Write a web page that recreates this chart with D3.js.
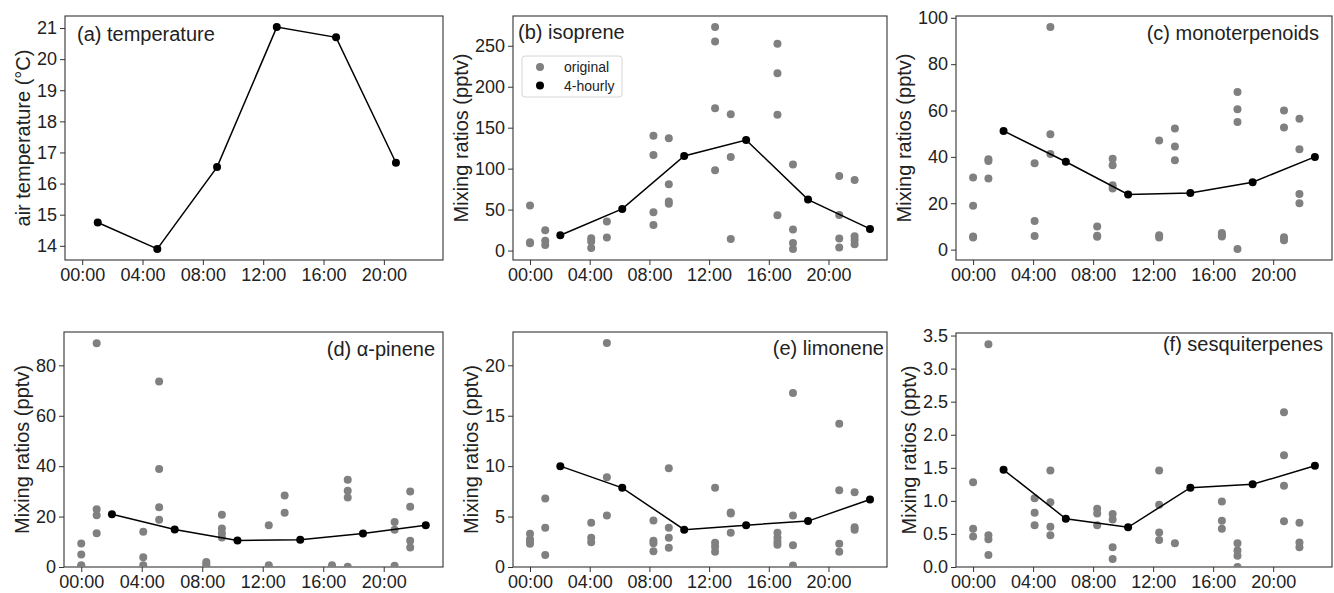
<!DOCTYPE html>
<html>
<head>
<meta charset="utf-8">
<script src="https://cdn.jsdelivr.net/npm/d3@7"></script>
<style>
  body { margin: 0; background: #fff; }
  text { font-family: "Liberation Sans", Arial, sans-serif; }
</style>
</head>
<body>
<div class="vis"></div>
<script>
var w = 1334;
var h = 593;

// hours of day for the original samples, the 4-hourly means and the temperature
var hoursOrig = [0, 1.02, 4.1, 5.15, 8.27, 9.3, 12.4, 13.45, 16.58, 17.62, 20.72, 21.75];
var hours4h = [2.03, 6.18, 10.33, 14.48, 18.63, 22.78];
var hoursTemp = [1.03, 4.98, 8.94, 12.9, 16.83, 20.8];
var xTicks = [0, 4, 8, 12, 16, 20];

var temperature = [14.75, 13.9, 16.53, 21.03, 20.7, 16.67];

// one inner array per sampling time
var isopreneOrig = [[54.9, 10.2, 9], [24.8, 12, 6.9], [15, 11, 3], [35.4, 15.9],
    [140, 116.7, 46.7, 31.3], [137, 81, 59.8, 57], [272.8, 255.3, 173.6, 98], [166.3, 114.2, 14.2],
    [252.4, 216.3, 165.9, 43], [104.9, 25.6, 9.3, 2], [91, 43.5, 14.6, 3.7], [86.2, 17.5, 13, 7.7]];
var isoprene4h = [18.7, 50.8, 115.4, 135, 62.2, 26.4];

var monoOrig = [[31.1, 18.9, 5.7, 5.2], [39, 38.2, 30.7], [37.3, 12.3, 5.9], [96, 49.8, 41.3],
    [10, 6, 5.5], [39.2, 36.4, 27.8, 26.4], [47.1, 6.2, 5.2], [52.2, 44.5, 38.5],
    [7.2, 6.2, 5.7], [68, 60.5, 55, 0.3], [60, 52.7, 5.3, 4], [56.5, 43.3, 24, 20]];
var mono4h = [51.2, 37.9, 23.8, 24.4, 29.1, 40];

var pineneOrig = [[9.3, 5, 0.7, 0.3], [88.8, 22.9, 20.5, 13.4], [14, 3.9, 0.7], [73.6, 38.9, 23.7, 18.7],
    [2, 1.2, 0.4], [20.7, 15.3, 13.4, 11.7], [16.6, 0.7], [28.4, 21.5],
    [0.7], [34.6, 30.3, 27.6, 0.1], [17.9, 14.8, 0.5], [30, 23.9, 10.4, 7.7]];
var pinene4h = [20.9, 14.9, 10.5, 10.8, 13.3, 16.6];

var limoneneOrig = [[3.3, 2.75, 2.5, 2.3], [6.8, 3.9, 1.2], [4.4, 2.9, 2.45], [22.2, 8.9, 5.1],
    [4.6, 2.6, 2.35, 1.55], [9.8, 3.9, 2.9, 1.9], [7.85, 2.4, 2.0, 1.5], [5.4, 5.3, 3.4],
    [3.4, 2.9, 2.5, 2.2], [17.25, 5.1, 2.15, 0.15], [14.2, 7.6, 2.3, 1.5], [7.4, 3.95, 3.7]];
var limonene4h = [10.0, 7.85, 3.7, 4.15, 4.55, 6.7];

var sesquiOrig = [[1.28, 0.58, 0.46], [3.37, 0.48, 0.42, 0.18], [1.04, 0.82, 0.63], [1.46, 0.98, 0.61, 0.48],
    [0.88, 0.81, 0.63], [0.8, 0.72, 0.3, 0.12], [1.46, 0.94, 0.52, 0.41], [0.36],
    [0.99, 0.7, 0.58], [0.36, 0.25, 0.17, 0.0], [2.34, 1.69, 1.23, 0.69], [0.67, 0.37, 0.3]];
var sesqui4h = [1.47, 0.73, 0.6, 1.2, 1.25, 1.53];

// panel boxes (layout only)
var panels = [
    { title: "(a) temperature", ylabel: "air temperature (°C)", line: temperature, lineX: hoursTemp, orig: null,
      yTicks: [14, 15, 16, 17, 18, 19, 20, 21], fmt: "d", zeroBottom: false,
      left: 65, right: 443, top: 16, bottom: 260, tx: 12, ty: 25, anchor: "start" },
    { title: "(b) isoprene", ylabel: "Mixing ratios (pptv)", line: isoprene4h, lineX: hours4h, orig: isopreneOrig,
      yTicks: [0, 50, 100, 150, 200, 250], fmt: "d", zeroBottom: false, legend: true,
      left: 513, right: 887, top: 16, bottom: 260, tx: 5, ty: 23, anchor: "start" },
    { title: "(c) monoterpenoids", ylabel: "Mixing ratios (pptv)", line: mono4h, lineX: hours4h, orig: monoOrig,
      yTicks: [0, 20, 40, 60, 80, 100], fmt: "d", zeroBottom: false,
      left: 956, right: 1332, top: 16, bottom: 260, tx: -13, ty: 24, anchor: "end" },
    { title: "(d) α-pinene", ylabel: "Mixing ratios (pptv)", line: pinene4h, lineX: hours4h, orig: pineneOrig,
      yTicks: [0, 20, 40, 60, 80], fmt: "d", zeroBottom: true,
      left: 64, right: 443, top: 332, bottom: 567, tx: -8, ty: 24, anchor: "end" },
    { title: "(e) limonene", ylabel: "Mixing ratios (pptv)", line: limonene4h, lineX: hours4h, orig: limoneneOrig,
      yTicks: [0, 5, 10, 15, 20], fmt: "d", zeroBottom: true,
      left: 513, right: 887, top: 332, bottom: 567, tx: -3, ty: 23, anchor: "end" },
    { title: "(f) sesquiterpenes", ylabel: "Mixing ratios (pptv)", line: sesqui4h, lineX: hours4h, orig: sesquiOrig,
      yTicks: [0, 0.5, 1, 1.5, 2, 2.5, 3, 3.5], fmt: ".1f", zeroBottom: true,
      left: 956, right: 1332, top: 333, bottom: 567, tx: -9, ty: 18, anchor: "end" }
];

var svg = d3.select(".vis")
    .append("svg")
    .attr("width", w)
    .attr("height", h);

// matplotlib style 5% margins
var xDomain = [-1.14, 23.92];

panels.forEach(function (p, i) {
    var vals = p.line.slice();
    if (p.orig) p.orig.forEach(col => col.forEach(v => vals.push(v)));
    var lo = d3.min(vals), hi = d3.max(vals), pad = (hi - lo) * 0.05;
    var yDomain = [p.zeroBottom ? 0 : lo - pad, hi + pad];

    var x = d3.scaleLinear().domain(xDomain).range([p.left, p.right]);
    var y = d3.scaleLinear().domain(yDomain).range([p.bottom, p.top]);

    var g = svg.append("g");

    svg.append("clipPath").attr("id", "clip" + i)
        .append("rect")
        .attr("x", p.left).attr("y", p.top)
        .attr("width", p.right - p.left).attr("height", p.bottom - p.top);

    // axes
    var xAxis = d3.axisBottom(x).tickValues(xTicks).tickSize(5).tickPadding(3)
        .tickFormat(d => d3.format("02d")(d) + ":00");
    var yAxis = d3.axisLeft(y).tickValues(p.yTicks).tickSize(5).tickPadding(3)
        .tickFormat(d3.format(p.fmt));

    g.append("g").attr("transform", "translate(0," + p.bottom + ")").call(xAxis);
    var yg = g.append("g").attr("transform", "translate(" + p.left + ",0)").call(yAxis);
    g.selectAll(".domain").remove();
    g.selectAll(".tick line").attr("stroke", "#333").attr("stroke-width", 1);
    g.selectAll(".tick text").attr("fill", "#222").style("font-size", "18px")
        .style("font-family", "'Liberation Sans', Arial, sans-serif");

    // frame
    g.append("rect")
        .attr("x", p.left).attr("y", p.top)
        .attr("width", p.right - p.left).attr("height", p.bottom - p.top)
        .attr("fill", "none").attr("stroke", "#333").attr("stroke-width", 1.1);

    var plot = g.append("g").attr("clip-path", "url(#clip" + i + ")");

    // original samples
    if (p.orig) {
        var pts = [];
        p.orig.forEach((col, j) => col.forEach(v => pts.push([hoursOrig[j], v])));
        plot.selectAll("circle.orig")
            .data(pts)
            .enter()
            .append("circle")
            .attr("class", "orig")
            .attr("cx", d => x(d[0]))
            .attr("cy", d => y(d[1]))
            .attr("r", 4)
            .attr("fill", "#808080");
    }

    // 4-hourly means / temperature
    var lineData = p.line.map((v, j) => [p.lineX[j], v]);
    plot.append("path")
        .datum(lineData)
        .attr("d", d3.line().x(d => x(d[0])).y(d => y(d[1])))
        .attr("fill", "none")
        .attr("stroke", "#000")
        .attr("stroke-width", 1.5);

    plot.selectAll("circle.mean")
        .data(lineData)
        .enter()
        .append("circle")
        .attr("class", "mean")
        .attr("cx", d => x(d[0]))
        .attr("cy", d => y(d[1]))
        .attr("r", 4)
        .attr("fill", "#000");

    // panel title
    g.append("text")
        .attr("x", p.anchor === "start" ? p.left + p.tx : p.right + p.tx)
        .attr("y", p.top + p.ty)
        .attr("text-anchor", p.anchor)
        .attr("fill", "#222")
        .style("font-size", "20px")
        .text(p.title);

    // y label placed left of the tick labels
    var bb = yg.node().getBBox();
    var lx = p.left + bb.x - 7;
    g.append("text")
        .attr("transform", "translate(" + lx + "," + ((p.top + p.bottom) / 2) + ") rotate(-90)")
        .attr("text-anchor", "middle")
        .attr("fill", "#222")
        .style("font-size", "20px")
        .text(p.ylabel);

    if (p.legend) {
        var lg = g.append("g").attr("transform", "translate(" + (p.left + 9) + "," + (p.top + 40) + ")");
        lg.append("rect")
            .attr("width", 100).attr("height", 41).attr("rx", 3)
            .attr("fill", "#fff").attr("fill-opacity", 0.8)
            .attr("stroke", "#d6d6d6");
        var items = [["original", "#808080"], ["4-hourly", "#000"]];
        items.forEach(function (it, k) {
            lg.append("circle").attr("cx", 18).attr("cy", 11 + k * 18.5).attr("r", 4).attr("fill", it[1]);
            lg.append("text").attr("x", 42).attr("y", 16 + k * 18.5)
                .attr("fill", "#222").style("font-size", "14px").text(it[0]);
        });
    }
});
</script>
</body>
</html>
